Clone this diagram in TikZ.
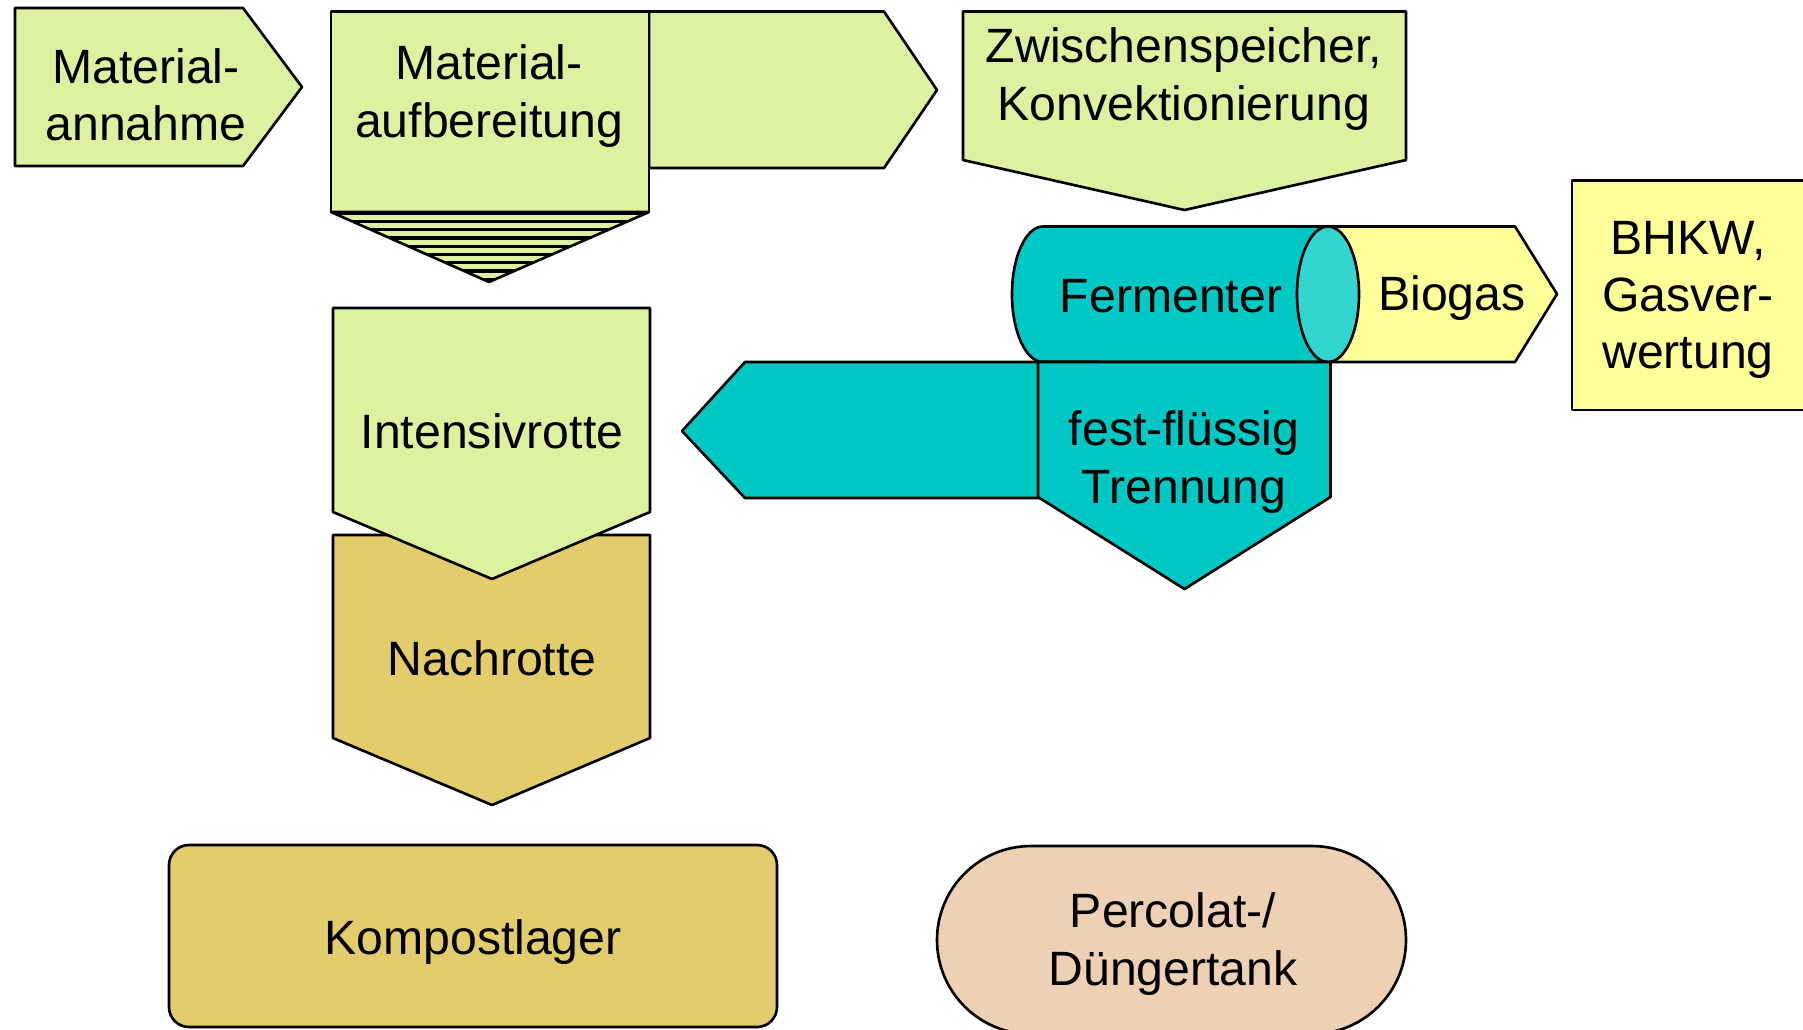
\documentclass[tikz,border=0pt]{standalone}
\usepackage{fontspec}
\setmainfont{Liberation Sans}
\definecolor{gruen}{RGB}{221,242,160}
\definecolor{ocker}{RGB}{227,204,108}
\definecolor{tuerkis}{RGB}{0,200,196}
\definecolor{tuerkishell}{RGB}{51,214,207}
\definecolor{gelb}{RGB}{255,255,153}
\definecolor{pfirsich}{RGB}{238,208,180}
\tikzset{form/.style={draw=black, line width=0.75pt}, txt/.style={align=center, inner sep=0pt}}
\begin{document}
\begin{tikzpicture}[x=0.01cm, y=-0.01cm, font=\fontsize{13.7}{16.3}\selectfont, line join=round, line cap=round]
			\clip (0,0) rectangle (1803,1029);
			\draw[form, fill=gruen] (15,8) -- (243,8) -- (302,87) -- (243,166) -- (15,166) -- cycle;
			\node[txt] (annahme) at (146,95) {Material-\\annahme};
			\draw[form, fill=gruen] (649,11.5) -- (884,11.5) -- (937,90) -- (884,168) -- (649,168) -- cycle;
			\draw[form, fill=gruen] (331,11.5) rectangle (649,212);
			\node[txt] (aufbereitung) at (489,96) {Material-\\aufbereitung};
			\begin{scope}
				\clip (331,212) -- (649,212) -- (489,282) -- cycle;
				\fill[gruen] (331,212) rectangle (649,282);
				\foreach \k in {0,...,8}
					\draw[line width=0.033cm, line cap=butt] (331,{213+8.3*\k}) -- (649,{213+8.3*\k});
			\end{scope}
			\draw[form] (331,212) -- (649,212) -- (489,282) -- cycle;
			\draw[form, fill=gruen] (963,11.5) -- (1406,11.5) -- (1406,160) -- (1184.5,210) -- (963,160) -- cycle;
			\node[txt] (speicher) at (1184,79) {Zwischenspeicher,\\Konvektionierung};
			\draw[form, fill=gelb] (1300,226.5) -- (1515,226.5) -- (1557,294) -- (1515,362) -- (1300,362) -- cycle;
			\draw[form, fill=tuerkis] (1043,226.5) arc[start angle=270, end angle=90, x radius=31, y radius=67.75] -- (1328,362) -- (1328,226.5) -- cycle;
			\draw[form, fill=tuerkishell] (1328,294.25) ellipse[x radius=31, y radius=67.75];
			\node[txt] (fermenter) at (1171,296) {Fermenter};
			\node[txt] (biogas) at (1452,298) {Biogas};
			\draw[form, fill=gelb] (1572,180.5) rectangle (1830,410);
			\node[txt] (bhkw) at (1688,300) {BHKW,\\Gasver-\\wertung};
			\draw[form, fill=tuerkis] (1100,362) -- (745,362) -- (682,431) -- (745,498) -- (1100,498) -- cycle;
			\draw[form, fill=tuerkis] (1038,362) -- (1330.5,362) -- (1330.5,497) -- (1184.5,589) -- (1038,497) -- cycle;
			\node[txt] (trennung) at (1184,462) {fest-flüssig\\Trennung};
			\draw[form, fill=ocker] (333,535) -- (650,535) -- (650,738) -- (492,805) -- (333,738) -- cycle;
			\node[txt] (nachrotte) at (492,658) {Nachrotte};
			\draw[form, fill=gruen] (333,308) -- (650,308) -- (650,512) -- (492,579) -- (333,512) -- cycle;
			\node[txt] (intensiv) at (492,431) {Intensivrotte};
			\draw[form, fill=ocker, rounded corners=0.2cm] (169,845) rectangle (777,1027);
			\node[txt] (kompost) at (473,942) {Kompostlager};
			\draw[form, fill=pfirsich, rounded corners=0.94cm] (937,846) rectangle (1406,1034);
			\node[txt] (percolat) at (1173,944) {Percolat-/\\Düngertank};
		\end{tikzpicture}
\end{document}
